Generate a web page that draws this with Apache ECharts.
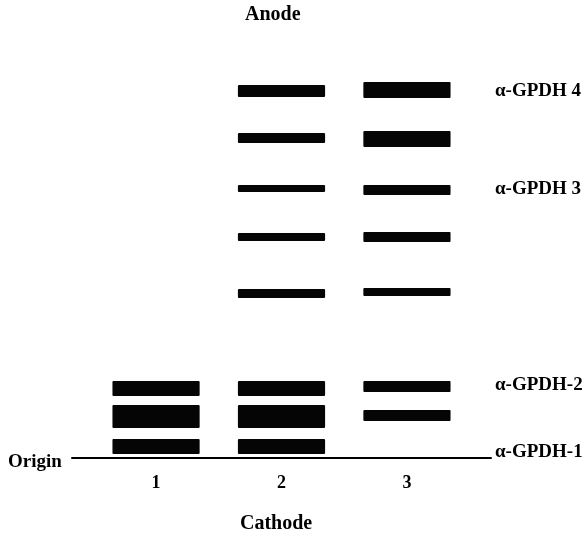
<!DOCTYPE html>
<html>
<head>
<meta charset="utf-8">
<script src="https://cdn.jsdelivr.net/npm/echarts@6/dist/echarts.min.js"></script>
<style>html,body{margin:0;padding:0;background:#fff}#c{width:584px;height:537px}</style>
</head>
<body>
<div id="c"></div>
<script>
// Lanes (category labels on the x axis)
const laneLabels = ['1', '2', '3'];
const laneValues = [1, 2, 3];

// Bands: lane, lower edge and upper edge of migration distance (arbitrary units from origin)
const bandLane = [1, 1, 1,
                  2, 2, 2, 2, 2, 2, 2, 2,
                  3, 3, 3, 3, 3, 3, 3];
const bandFrom = [1.0, 7.5, 15.5,
                  1.0, 7.5, 15.5, 40.0, 54.25, 66.5, 78.75, 90.25,
                  9.25, 16.5, 40.5, 54.0, 65.75, 77.75, 90.0];
const bandTo   = [4.75, 13.25, 19.25,
                  4.75, 13.25, 19.25, 42.25, 56.25, 68.25, 81.25, 93.25,
                  12.0, 19.25, 42.5, 56.5, 68.25, 81.75, 94.0];

// Isozyme annotations on the right
const isoNames = ['α-GPDH 4', 'α-GPDH 3', 'α-GPDH-2', 'α-GPDH-1'];
const isoPos   = [91.75, 67.25, 18.25, 1.5];

const FONT = '"Liberation Serif", "DejaVu Serif", serif';
const X_MIN = 0.33, X_MAX = 3.67, LANE_W = 0.695;

const bandData = bandLane.map((l, i) => [l, bandFrom[i], bandTo[i]]);
const isoData = isoNames.map((n, i) => ({ value: [X_MAX, isoPos[i]], name: n }));

const chart = echarts.init(document.getElementById('c'), null, { renderer: 'canvas' });
chart.setOption({
  backgroundColor: '#fff',
  animation: false,
  grid: { left: 72, right: 93, top: 58, bottom: 79 },
  xAxis: {
    type: 'value', min: X_MIN, max: X_MAX,
    splitLine: { show: false },
    axisLine: { show: true, lineStyle: { color: '#000', width: 2 } },
    axisTick: { show: false },
    axisLabel: {
      customValues: laneValues,
      formatter: v => laneLabels[laneValues.indexOf(Math.round(v))] || '',
      color: '#000', fontFamily: FONT, fontWeight: 'bold', fontSize: 18, margin: 16
    }
  },
  yAxis: {
    type: 'value', min: 0, max: 100, show: false
  },
  series: [
    {
      type: 'custom',
      data: bandData,
      encode: { x: 0, y: [1, 2] },
      renderItem: function (params, api) {
        const x = api.value(0), lo = api.value(1), hi = api.value(2);
        const top = api.coord([x, hi]);
        const bot = api.coord([x, lo]);
        const w = api.size([LANE_W, 0])[0];
        return {
          type: 'rect',
          shape: { x: top[0] - w / 2, y: top[1], width: w, height: bot[1] - top[1], r: 1 },
          style: { fill: '#050505' }
        };
      }
    },
    {
      type: 'scatter',
      data: isoData,
      symbolSize: 0,
      clip: false,
      silent: true,
      itemStyle: { opacity: 1 },
      label: {
        show: true, position: 'right', distance: 4,
        formatter: p => p.name,
        color: '#000', fontFamily: FONT, fontWeight: 'bold', fontSize: 19
      }
    }
  ],
  graphic: [
    { type: 'text', left: 273 - 28, top: 5,
      style: { text: 'Anode', fill: '#000', font: 'bold 20px ' + FONT } },
    { type: 'text', left: 276 - 36, top: 514,
      style: { text: 'Cathode', fill: '#000', font: 'bold 20px ' + FONT } },
    { type: 'text', left: 8, top: 453,
      style: { text: 'Origin', fill: '#000', font: 'bold 19px ' + FONT } }
  ]
});
</script>
</body>
</html>
